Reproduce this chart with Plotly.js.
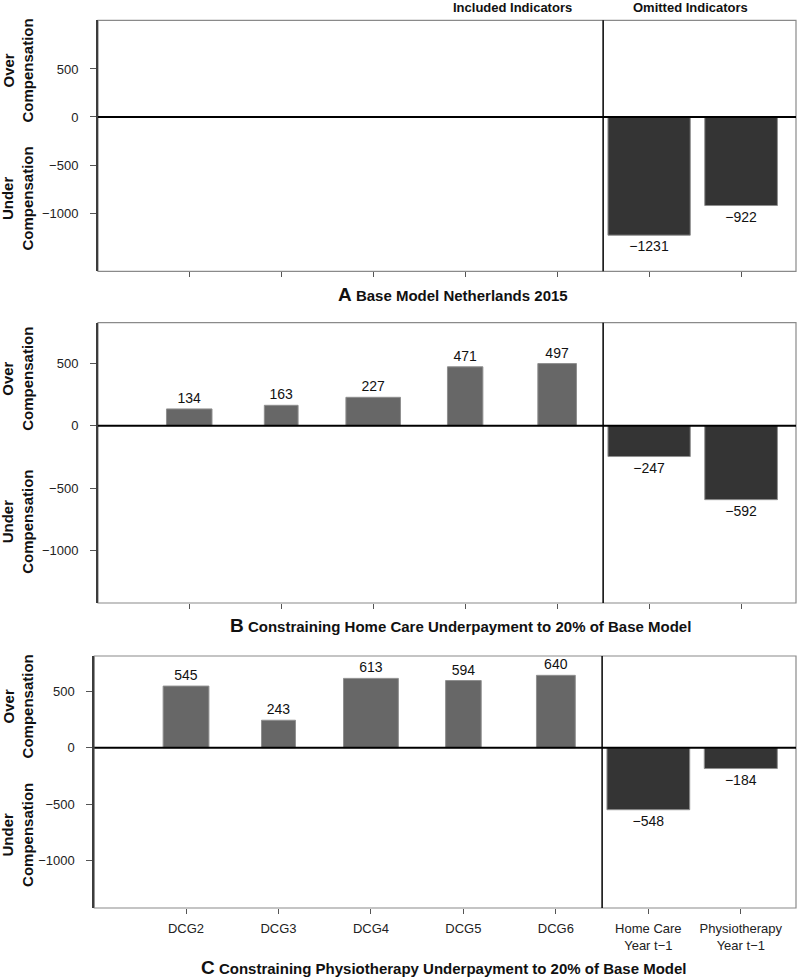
<!DOCTYPE html>
<html>
<head>
<meta charset="utf-8">
<script src="https://cdn.plot.ly/plotly-3.0.1.min.js"></script>
<style>html,body{margin:0;padding:0;background:#fff;}#chart{width:798px;height:978px;}</style>
</head>
<body>
<div id="chart"></div>
<script>
// ---- data ----
const categories = ['DCG2', 'DCG3', 'DCG4', 'DCG5', 'DCG6', 'Home Care<br>Year t\u22121', 'Physiotherapy<br>Year t\u22121'];
const groups = ['included', 'included', 'included', 'included', 'included', 'omitted', 'omitted'];
const valuesA = [null, null, null, null, null, -1231, -922];
const valuesB = [134, 163, 227, 471, 497, -247, -592];
const valuesC = [545, 243, 613, 594, 640, -548, -184];
const barWidths = [0.495, 0.367, 0.593, 0.385, 0.42, 0.895, 0.79];
const yTickVals = [-1000, -500, 0, 500];
const panelTitles = [
  ['A', 'Base Model Netherlands 2015'],
  ['B', 'Constraining Home Care Underpayment to 20% of Base Model'],
  ['C', 'Constraining Physiotherapy Underpayment to 20% of Base Model']
];
const headerLabels = ['Included Indicators', 'Omitted Indicators'];
const yLabels = ['Over<br>Compensation', 'Under<br>Compensation'];

// ---- styling / layout ----
const W = 798, H = 978;
const py = p => 1 - p / H;
const FONT = 'Liberation Sans, Arial, Helvetica, sans-serif';
const groupColor = {included: '#676767', omitted: '#343434'};
const fmt = v => v == null ? '' : (v < 0 ? '\u2212' + Math.abs(v) : String(v));

const panels = [
  {vals: valuesA, yr: [-1607, 1007], yd: [py(271.3), py(20.3)], xd: [98 / W, 796 / W], tx: 453, ty: 294, labels: false},
  {vals: valuesB, yr: [-1419, 824], yd: [py(603), py(322.7)], xd: [98 / W, 796 / W], tx: 460, ty: 625, labels: false},
  {vals: valuesC, yr: [-1417, 811], yd: [py(908), py(656)], xd: [94.3 / W, 796 / W], tx: 444, ty: 967, labels: true}
];

const data = [];
const layout = {
  width: W, height: H,
  margin: {l: 0, r: 0, t: 0, b: 0},
  paper_bgcolor: '#fff', plot_bgcolor: '#fff',
  showlegend: false,
  font: {family: FONT, color: '#1a1a1a', size: 13},
  bargap: 0,
  shapes: [], annotations: []
};

panels.forEach((p, i) => {
  const n = i + 1;
  const xa = 'x' + (n === 1 ? '' : n), ya = 'y' + (n === 1 ? '' : n);
  const xk = 'xaxis' + (n === 1 ? '' : n), yk = 'yaxis' + (n === 1 ? '' : n);
  data.push({
    type: 'bar', x: categories, y: p.vals, width: barWidths,
    xaxis: xa, yaxis: ya,
    marker: {color: groups.map(g => groupColor[g]), line: {color: '#8f8f8f', width: 1}},
    text: p.vals.map(fmt), textposition: 'outside', constraintext: 'none', cliponaxis: false,
    textfont: {family: FONT, size: 14, color: '#111'},
    hoverinfo: 'none'
  });
  layout[xk] = {
    domain: p.xd, anchor: ya, type: 'category', range: [-0.992, 6.597],
    showgrid: false, zeroline: false, showline: false,
    ticks: 'outside', ticklen: 5, tickwidth: 1, tickcolor: '#555',
    showticklabels: p.labels, tickfont: {family: FONT, size: 13, color: '#222'},
    ticklabelstandoff: 3, fixedrange: true
  };
  layout[yk] = {
    domain: p.yd, anchor: xa, range: p.yr,
    showgrid: false, zeroline: false,
    showline: true, linecolor: '#3c3c3c', linewidth: 2,
    ticks: 'outside', ticklen: 6, tickwidth: 1, tickcolor: '#555',
    tickvals: yTickVals, tickfont: {family: FONT, size: 13, color: '#222'},
    ticklabelstandoff: 9, fixedrange: true
  };
  // frame
  layout.shapes.push({type: 'rect', xref: xa + ' domain', yref: ya + ' domain', x0: 0, x1: 1, y0: 0, y1: 1,
    line: {color: '#8a8a8a', width: 1.2}, layer: 'below'});
  // zero line
  layout.shapes.push({type: 'line', xref: xa + ' domain', yref: ya, x0: 0, x1: 1, y0: 0, y1: 0,
    line: {color: '#000', width: 2}, layer: 'above'});
  // divider between included and omitted
  layout.shapes.push({type: 'line', xref: xa, yref: ya + ' domain', x0: 4.5, x1: 4.5, y0: 0, y1: 1,
    line: {color: '#000', width: 1.5}, layer: 'above'});
  // y labels
  [[yLabels[0], 0.8], [yLabels[1], 0.29]].forEach(([t, fy]) => {
    layout.annotations.push({text: '<b>' + t + '</b>', xref: 'paper', yref: ya + ' domain', x: 18 / W, y: fy,
      textangle: -90, showarrow: false, xanchor: 'center', yanchor: 'middle',
      font: {family: FONT, size: 15, color: '#111'}});
  });
  // panel title
  layout.annotations.push({
    text: '<b><span style="font-size:19px">' + panelTitles[i][0] + '</span> ' + panelTitles[i][1] + '</b>',
    xref: 'paper', yref: 'paper', x: p.tx / W, y: py(p.ty), xanchor: 'center', yanchor: 'middle',
    showarrow: false, font: {family: FONT, size: 15, color: '#111'}
  });
});

// headers above panel A
[[headerLabels[0], 3.52], [headerLabels[1], 5.45]].forEach(([t, x]) => {
  layout.annotations.push({text: '<b>' + t + '</b>', xref: 'x', yref: 'paper', x: x, y: py(7.5),
    xanchor: 'center', yanchor: 'middle', showarrow: false, font: {family: FONT, size: 13, color: '#111'}});
});

Plotly.newPlot('chart', data, layout, {staticPlot: true, displayModeBar: false});
</script>
</body>
</html>
